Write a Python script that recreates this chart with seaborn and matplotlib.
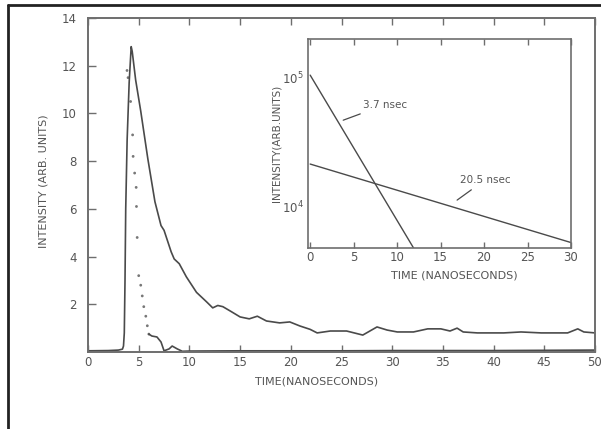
import matplotlib
matplotlib.use("Agg")
import matplotlib.pyplot as plt
from matplotlib.lines import Line2D
from matplotlib.ticker import NullLocator, FixedLocator
import seaborn as sns

# ---------------- data ----------------
# main decay curve (solid)
decay_t = [0, 2.0, 3.0, 3.4, 3.5, 3.58, 3.65, 3.72, 3.86, 4.06, 4.26, 4.36, 4.7, 5.2,
           5.9, 6.6, 7.2, 7.5, 8.2, 8.5, 9.0, 9.7, 10.7, 11.7, 12.3, 12.8, 13.3, 14.1,
           15.0, 15.9, 16.7, 17.6, 18.9, 19.9, 20.9, 21.9, 22.6, 23.9, 25.5, 27.1,
           28.5, 29.5, 30.5, 32.1, 33.5, 34.8, 35.7, 36.4, 37.0, 38.4, 41.0, 42.7,
           44.7, 47.3, 48.3, 48.9, 50.0]
decay_i = [0.05, 0.06, 0.08, 0.12, 0.25, 0.8, 3.0, 6.0, 8.9, 11.3, 12.8, 12.6, 11.4, 10.1,
           8.1, 6.3, 5.3, 5.1, 4.2, 3.9, 3.7, 3.15, 2.5, 2.1, 1.85, 1.95, 1.9, 1.7,
           1.47, 1.39, 1.5, 1.3, 1.22, 1.26, 1.09, 0.95, 0.8, 0.88, 0.88, 0.71,
           1.05, 0.92, 0.84, 0.84, 0.97, 0.97, 0.88, 1.0, 0.84, 0.8, 0.8, 0.84,
           0.8, 0.8, 0.97, 0.84, 0.8]

# excitation pulse (dotted part)
pulse_dot_t = [3.85, 3.95, 4.2, 4.4, 4.45, 4.6, 4.75, 4.78, 4.85, 5.0, 5.2, 5.35,
               5.5, 5.7, 5.85, 6.0]
pulse_dot_i = [11.8, 11.5, 10.5, 9.1, 8.2, 7.5, 6.9, 6.1, 4.8, 3.2, 2.8, 2.35,
               1.9, 1.5, 1.1, 0.75]
# excitation pulse tail (solid, near baseline)
pulse_tail_t = [6.0, 6.3, 6.8, 7.2, 7.5, 8.0, 8.3, 8.8, 9.3, 10, 15, 20, 25, 30,
                35, 40, 45, 50]
pulse_tail_i = [0.75, 0.67, 0.63, 0.42, 0.05, 0.13, 0.25, 0.13, 0.03, 0.04, 0.05,
                0.05, 0.05, 0.06, 0.06, 0.06, 0.07, 0.08]

# inset: two exponential components (straight lines on log scale), end points
fast_t = [0, 11.9]
fast_i = [1.05e5, 4.8e3]
slow_t = [0, 30]
slow_i = [2.15e4, 5.3e3]

main_xticks = [0, 5, 10, 15, 20, 25, 30, 35, 40, 45, 50]
main_yticks = [2, 4, 6, 8, 10, 12, 14]
inset_xticks = [0, 5, 10, 15, 20, 25, 30]
inset_yticks = [1e4, 1e5]

# ---------------- style ----------------
sns.set_style("ticks")
plt.rcParams["font.family"] = ["DejaVu Sans"]
ink = "#4a4a4a"
txt = "#555555"
spine_c = "#6e6e6e"

fig = plt.figure(figsize=(6.01, 4.29), dpi=100)
fig.patch.set_facecolor("white")

W, H = 601.0, 429.0
def rect(l, t, r, b):
    return [l / W, (H - b) / H, (r - l) / W, (b - t) / H]

# ---------------- main axes ----------------
ax = fig.add_axes(rect(88, 18, 595, 352))
ax.set_facecolor("white")
sns.lineplot(x=decay_t, y=decay_i, ax=ax, color=ink, lw=1.2, sort=False)
sns.lineplot(x=pulse_tail_t, y=pulse_tail_i, ax=ax, color=ink, lw=1.2, sort=False)
sns.scatterplot(x=pulse_dot_t, y=pulse_dot_i, ax=ax, color="#777777", s=4,
                edgecolor="none")

ax.set_xlim(0, 50)
ax.set_ylim(0, 14)
ax.xaxis.set_major_locator(FixedLocator(main_xticks))
ax.yaxis.set_major_locator(FixedLocator(main_yticks))
ax.set_xticklabels([str(v) for v in main_xticks])
ax.set_yticklabels([str(v) for v in main_yticks])
ax.tick_params(axis="x", direction="in", length=5, width=1, color=spine_c,
               labelsize=8.5, labelcolor=txt, pad=3, top=True)
ax.tick_params(axis="y", direction="in", length=6, width=1, color=spine_c,
               labelsize=8.5, labelcolor=txt, pad=8)
for s in ax.spines.values():
    s.set_color(spine_c)
    s.set_linewidth(1.4)
ax.set_xlabel("")
ax.set_ylabel("")
ax.text((317 - 88) / 507, -(381 - 352) / 334, "TIME(NANOSECONDS)",
        transform=ax.transAxes, ha="center", va="center", fontsize=8, color=txt)
ax.text((44 - 88) / 507, (352 - 181) / 334, "INTENSITY (ARB. UNITS)",
        transform=ax.transAxes, ha="center", va="center", rotation=90,
        fontsize=8, color=txt)

# ---------------- inset ----------------
axi = fig.add_axes(rect(308, 39, 571, 248))
axi.set_facecolor("white")
axi.set_yscale("log")
sns.lineplot(x=fast_t, y=fast_i, ax=axi, color=ink, lw=1.0)
sns.lineplot(x=slow_t, y=slow_i, ax=axi, color=ink, lw=1.0)
axi.set_xlim(-0.25, 30)
axi.set_ylim(4.81e3, 2.0e5)
axi.xaxis.set_major_locator(FixedLocator(inset_xticks))
axi.set_xticklabels([str(v) for v in inset_xticks])
axi.yaxis.set_major_locator(FixedLocator(inset_yticks))
axi.yaxis.set_minor_locator(NullLocator())
axi.set_yticklabels([r"$10^5$" if v == 1e5 else r"$10^4$" for v in inset_yticks])
axi.tick_params(axis="x", direction="in", length=4, width=1, color=spine_c,
                labelsize=8.5, labelcolor=txt, pad=2, top=True)
axi.tick_params(axis="y", direction="in", length=0, width=1, color=spine_c,
                labelsize=8.5, labelcolor=txt, pad=3)
for s in axi.spines.values():
    s.set_color(spine_c)
    s.set_linewidth(1.2)
axi.set_xlabel("")
axi.set_ylabel("")
axi.text((454 - 308) / 263, -(275 - 248) / 209, "TIME (NANOSECONDS)",
         transform=axi.transAxes, ha="center", va="center", fontsize=8, color=txt)
axi.text((277 - 308) / 263, (248 - 143) / 209, "INTENSITY(ARB.UNITS)",
         transform=axi.transAxes, ha="center", va="center", rotation=90,
         fontsize=7.5, color=txt)

# annotations with leader lines
axi.annotate("3.7 nsec", xy=(3.8, 4.7e4), xytext=(6.1, 6.2e4),
             fontsize=7.5, color=txt, va="center", ha="left",
             arrowprops=dict(arrowstyle="-", color=ink, lw=0.9,
                             shrinkA=2, shrinkB=0))
axi.annotate("20.5 nsec", xy=(16.9, 1.13e4), xytext=(17.2, 1.62e4),
             fontsize=7.5, color=txt, va="center", ha="left",
             arrowprops=dict(arrowstyle="-", color=ink, lw=0.9,
                             shrinkA=2, shrinkB=0))

# scanned page frame (left and top edges)
fig.add_artist(Line2D([8 / W, 8 / W], [0, 1 - 5 / H], transform=fig.transFigure,
                      color="#222222", lw=2.0))
fig.add_artist(Line2D([8 / W, 1], [1 - 5 / H, 1 - 5 / H], transform=fig.transFigure,
                      color="#222222", lw=2.0))

fig.savefig("out.png", dpi=100)
